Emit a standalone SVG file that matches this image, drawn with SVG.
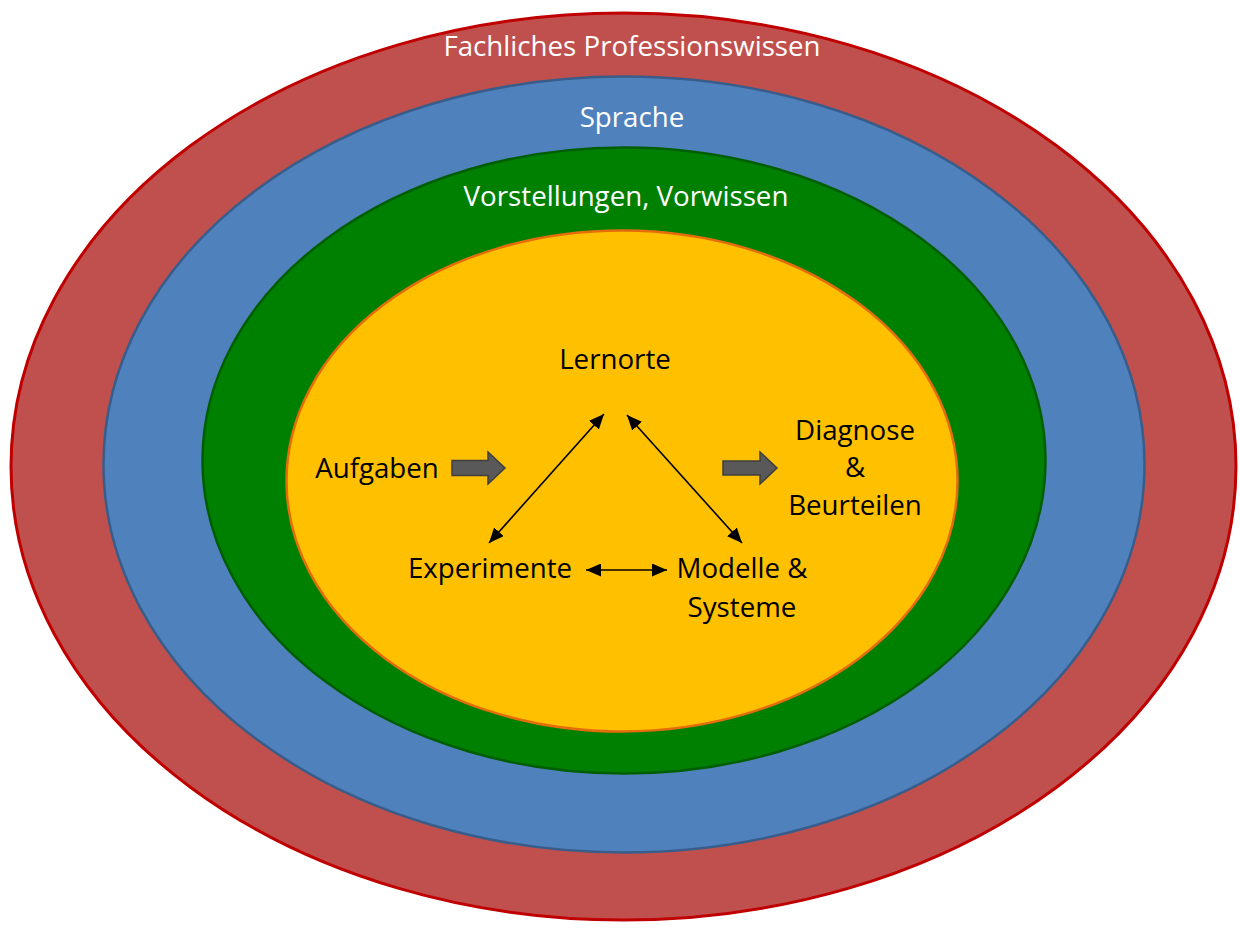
<svg xmlns="http://www.w3.org/2000/svg" width="1240" height="925" viewBox="0 0 1240 925">
  <style>
    .lbl { font-family: "Open Sans", "Liberation Sans", sans-serif; font-size: 27.7px; text-anchor: middle; }
    .w { fill: #ffffff; }
    .k { fill: #000000; }
    .conn { stroke: #000000; stroke-width: 1.6; fill: none; marker-start: url(#ah); marker-end: url(#ah); }
    .block { fill: #595959; stroke: #3f3f3f; stroke-width: 1.5; }
  </style>
  <defs>
    <marker id="ah" markerUnits="userSpaceOnUse" markerWidth="15" markerHeight="13" refX="15" refY="6.5" orient="auto-start-reverse" viewBox="0 0 15 13">
      <path d="M0,0 L15,6.5 L0,13 z" fill="#000000"/>
    </marker>
  </defs>
  <rect width="1240" height="925" fill="#ffffff"/>

  <g id="ring-fachwissen">
    <ellipse cx="623.5" cy="466.5" rx="612.5" ry="453.5" fill="#C0504D" stroke="#C00000" stroke-width="3"/>
    <text class="lbl w" x="632" y="56">Fachliches Professionswissen</text>
  </g>
  <g id="ring-sprache">
    <ellipse cx="624" cy="464.5" rx="520.5" ry="388" fill="#4F81BD" stroke="#385D8A" stroke-width="2.5"/>
    <text class="lbl w" x="632" y="127">Sprache</text>
  </g>
  <g id="ring-vorstellungen">
    <ellipse cx="624" cy="460.5" rx="421.5" ry="313" fill="#008000" stroke="#005E00" stroke-width="2.5"/>
    <text class="lbl w" x="626" y="206">Vorstellungen, Vorwissen</text>
  </g>
  <g id="core">
    <ellipse cx="622" cy="481" rx="335.5" ry="250.5" fill="#FFC000" stroke="#E46C0A" stroke-width="2.5"/>
  </g>

  <g id="node-lernorte"><text class="lbl k" x="615" y="369">Lernorte</text></g>
  <g id="node-aufgaben"><text class="lbl k" x="377" y="478">Aufgaben</text></g>
  <g id="node-experimente"><text class="lbl k" x="490" y="578">Experimente</text></g>
  <g id="node-modelle">
    <text class="lbl k" x="742" y="578">Modelle &amp;</text>
    <text class="lbl k" x="742" y="617">Systeme</text>
  </g>
  <g id="node-diagnose">
    <text class="lbl k" x="855" y="440">Diagnose</text>
    <text class="lbl k" x="855" y="477">&amp;</text>
    <text class="lbl k" x="855" y="515">Beurteilen</text>
  </g>

  <g id="connectors">
    <line class="conn" x1="489" y1="543" x2="604" y2="414"/>
    <line class="conn" x1="627" y1="415" x2="742" y2="543"/>
    <line class="conn" x1="586" y1="570" x2="667" y2="570"/>
    <path class="block" d="M452,460.5 H488 V452 L505,468 L488,484 V475.5 H452 Z"/>
    <path class="block" d="M723,461 H760 V452 L777,468 L760,484 V475 H723 Z"/>
  </g>
</svg>
